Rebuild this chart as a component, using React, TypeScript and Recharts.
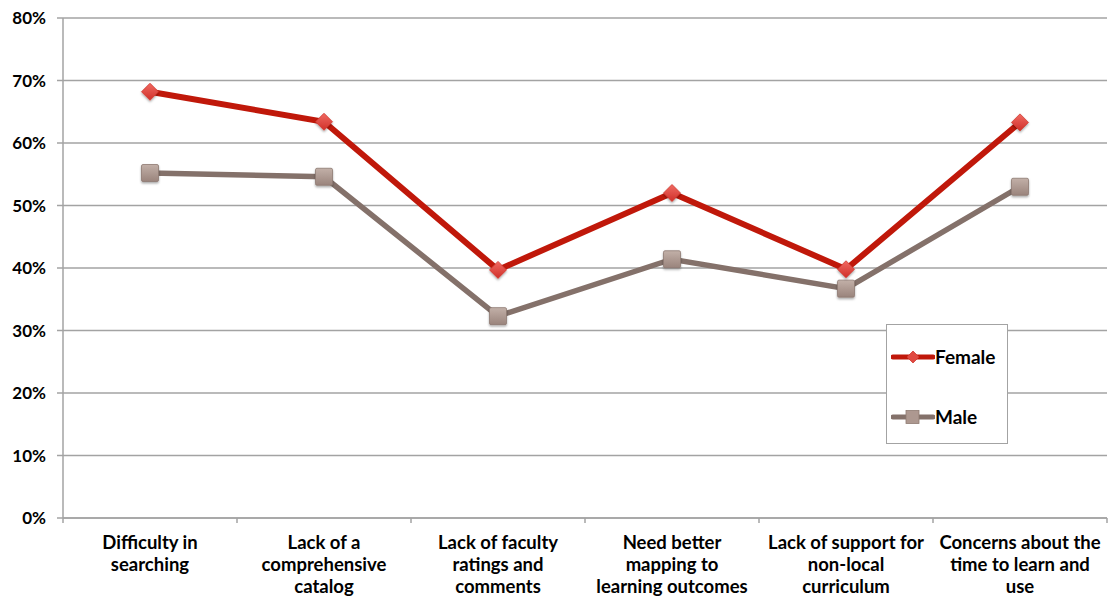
import React from "react";
import {
  LineChart,
  Line,
  XAxis,
  YAxis,
  CartesianGrid,
} from "recharts";

// survey categories, one label line per entry
const categories = [
  ["Difficulty in", "searching"],
  ["Lack of a", "comprehensive", "catalog"],
  ["Lack of faculty", "ratings and", "comments"],
  ["Need better", "mapping to", "learning outcomes"],
  ["Lack of support for", "non-local", "curriculum"],
  ["Concerns about the", "time to learn and", "use"],
];

const femaleValues = [68.2, 63.4, 39.7, 52.0, 39.8, 63.3];
const maleValues = [55.2, 54.6, 32.3, 41.4, 36.7, 53.0];

const yTicks = [0, 10, 20, 30, 40, 50, 60, 70, 80];

const data = categories.map((c, i) => ({
  name: c.join(" "),
  Female: femaleValues[i],
  Male: maleValues[i],
}));

const FONT = "Lato, 'DejaVu Sans', sans-serif";
const GRID = "#a3a3a3";
const RED = "#c0180a";
const BROWN = "#84716a";
const HALF_BAND = 87;

const XTick = (props: any) => {
  const { x, y, index } = props;
  const lines = categories[index] || [];
  return (
    <g>
      <line x1={x - HALF_BAND} x2={x - HALF_BAND} y1={y - 8} y2={y - 3} stroke={GRID} strokeWidth={1.5} />
      {index === categories.length - 1 && (
        <line x1={x + HALF_BAND} x2={x + HALF_BAND} y1={y - 8} y2={y - 3} stroke={GRID} strokeWidth={1.5} />
      )}
      {lines.map((l, i) => (
        <text
          key={i}
          x={x}
          y={y + 23 + i * 22}
          textAnchor="middle"
          fontFamily={FONT}
          fontWeight="bold"
          fontSize={18.5}
          fill="#000"
        >
          {l}
        </text>
      ))}
    </g>
  );
};

const YTick = (props: any) => {
  const { x, y, payload } = props;
  return (
    <text
      x={x - 9}
      y={y + 6}
      textAnchor="end"
      fontFamily={FONT}
      fontWeight="bold"
      fontSize={17}
      fill="#000"
    >
      {payload.value}%
    </text>
  );
};

const Diamond = (props: any) => {
  const { cx, cy } = props;
  if (cx == null || cy == null) return null;
  const r = 8.5;
  return (
    <path
      d={`M${cx},${cy - r}L${cx + r},${cy}L${cx},${cy + r}L${cx - r},${cy}Z`}
      fill="url(#redGrad)"
      stroke="#d23a30"
      strokeWidth={0.8}
      filter="url(#shadow)"
    />
  );
};

const Square = (props: any) => {
  const { cx, cy } = props;
  if (cx == null || cy == null) return null;
  const s = 17;
  return (
    <rect
      x={cx - s / 2}
      y={cy - s / 2}
      width={s}
      height={s}
      rx={1.5}
      fill="url(#brownGrad)"
      stroke="#8e7a72"
      strokeWidth={0.8}
      filter="url(#shadow)"
    />
  );
};

const legendItems = [
  { label: "Female", color: RED, marker: "diamond" },
  { label: "Male", color: BROWN, marker: "square" },
];

const ChartLegend = () => (
  <div
    style={{
      position: "absolute",
      left: 886,
      top: 324,
      width: 122,
      height: 120,
      border: `1.5px solid ${GRID}`,
      background: "#fff",
      boxSizing: "border-box",
    }}
  >
    {legendItems.map((it, i) => (
      <div
        key={it.label}
        style={{
          position: "absolute",
          left: 4,
          top: 20 + i * 60,
          display: "flex",
          alignItems: "center",
          fontFamily: FONT,
          fontWeight: "bold",
          fontSize: 19,
          color: "#000",
        }}
      >
        <svg width={44} height={16}>
          <line x1={2} x2={42} y1={8} y2={8} stroke={it.color} strokeWidth={5} strokeLinecap="round" />
          {it.marker === "diamond" ? (
            <path d="M22,2L28,8L22,14L16,8Z" fill="#e04a42" stroke="#d23a30" strokeWidth={0.8} />
          ) : (
            <rect x={15} y={1.5} width={13} height={13} fill="#ad9890" stroke="#8e7a72" strokeWidth={0.8} />
          )}
        </svg>
        <span>{it.label}</span>
      </div>
    ))}
  </div>
);

export default function App() {
  return (
    <div style={{ position: "fixed", left: 0, top: 0, width: 1116, height: 598, background: "#fff" }}>
      <LineChart
        width={1116}
        height={598}
        data={data}
        margin={{ top: 18, right: 9, bottom: 0, left: 0 }}
      >
        <defs>
          <linearGradient id="redGrad" x1="0" y1="0" x2="0" y2="1">
            <stop offset="0%" stopColor="#f06a62" />
            <stop offset="100%" stopColor="#d0302a" />
          </linearGradient>
          <linearGradient id="brownGrad" x1="0" y1="0" x2="0" y2="1">
            <stop offset="0%" stopColor="#c2b0a8" />
            <stop offset="100%" stopColor="#9a847c" />
          </linearGradient>
          <filter id="shadow" x="-50%" y="-50%" width="200%" height="200%">
            <feDropShadow dx="0" dy="1.5" stdDeviation="1.2" floodColor="#000" floodOpacity="0.35" />
          </filter>
        </defs>
        <CartesianGrid vertical={false} stroke={GRID} strokeWidth={1.5} />
        <XAxis
          dataKey="name"
          height={80}
          axisLine={{ stroke: GRID, strokeWidth: 1.5 }}
          tickLine={false}
          tick={<XTick />}
          interval={0}
          padding={{ left: HALF_BAND, right: HALF_BAND }}
        />
        <YAxis
          width={63}
          domain={[0, 80]}
          ticks={yTicks}
          axisLine={{ stroke: GRID, strokeWidth: 1.5 }}
          tickLine={{ stroke: GRID, strokeWidth: 1.5 }}
          tickSize={6}
          tick={<YTick />}
        />
        <Line
          type="linear"
          dataKey="Male"
          stroke={BROWN}
          strokeWidth={5.5}
          dot={<Square />}
          activeDot={false}
          isAnimationActive={false}
        />
        <Line
          type="linear"
          dataKey="Female"
          stroke={RED}
          strokeWidth={6}
          dot={<Diamond />}
          activeDot={false}
          isAnimationActive={false}
        />
      </LineChart>
      <ChartLegend />
    </div>
  );
}
